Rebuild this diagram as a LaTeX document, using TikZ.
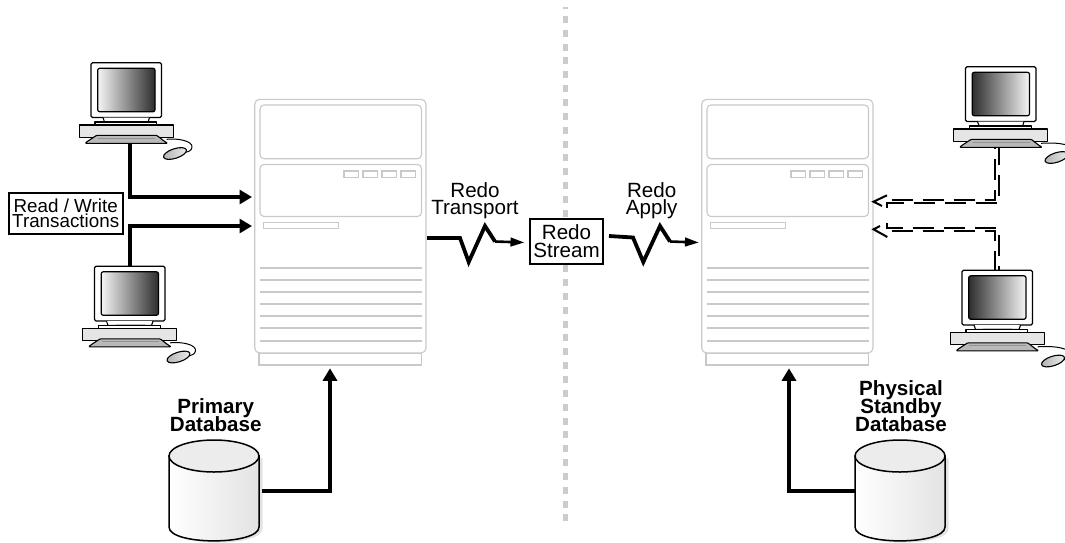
\documentclass[tikz,border=0pt]{standalone}
\usepackage{fontspec}
\setmainfont{Liberation Sans}
\usetikzlibrary{arrows.meta}
\definecolor{srv}{HTML}{C9C9C9}
\definecolor{sep}{HTML}{CCCCCC}
\setlength{\normallineskiplimit}{-30pt}
\setlength{\lineskiplimit}{-30pt}
\newcommand{\mycomputer}[5]{%
\begin{scope}[shift={(#1,#2)},line join=round]
 \draw[line width=1] (166.7,139.3) .. controls (178+#5,138) and (193+#5,141) .. (192+#5,147.3) .. controls (191.5+#5,151) and (188+#5,152) .. (183.5+#5,152.5);
 \begin{scope}[xshift=#5]
 \draw[line width=1.1,left color=gray!60,right color=gray!15,rotate around={18:(175,153.5)}] (175,153.5) ellipse [x radius=12,y radius=4.8];
 \end{scope}
 \draw[line width=1.3,rounded corners=1.5,fill=white] (91,62.7) rectangle (161.5,117.5);
 \shade[left color=#3,right color=#4,rounded corners=2,draw=black,line width=1.2] (97.7,68.3) rectangle (155,111.7);
 \draw[line width=1.1,fill=white] (103,117.5) -- (104.5,122) -- (148,122) -- (149.5,117.5);
 \fill[gray!55] (112,120.5) rectangle (141,122);
 \draw[line width=1.1,fill=white] (95,122) rectangle (156.7,125);
 \draw[line width=1.2,fill=gray!20] (79.3,125) rectangle (173.3,137.3);
 \draw[line width=1.1,fill=gray!55,rounded corners=1] (85,143.3) -- (88,141) -- (96.7,135.3) -- (156.7,135.3) -- (164,141) -- (167.7,143.3) -- cycle;
 \draw[line width=.6,gray!85] (98,138) -- (155,138);
\end{scope}}
\newcommand{\myserver}[1]{%
\begin{scope}[xshift=#1,draw=srv,line width=1.1]
 \draw[fill=white] (259,353) rectangle (421.5,365);
 \draw[fill=white,rounded corners=5] (254.7,99.3) rectangle (426,353);
 \draw[rounded corners=4] (260,105) rectangle (421.5,158.7);
 \draw[rounded corners=4] (260,164.5) rectangle (421.5,216.5);
 \draw (344,171) rectangle (358.5,177.5);
 \draw (363,171) rectangle (377.5,177.5);
 \draw (382,171) rectangle (396.5,177.5);
 \draw (401,171) rectangle (415.5,177.5);
 \draw (263.5,222.5) rectangle (338.5,228.5);
 \foreach \ly in {268,280,292,304,316,328,341}{\draw (260,\ly) -- (421.5,\ly);}
\end{scope}}
\newcommand{\mydb}[1]{%
\begin{scope}[xshift=#1]
 \fill[gray!22] (172,456) -- (172,529) .. controls (172,547) and (262.5,547) .. (262.5,529) -- (262.5,458) -- cycle;
 \draw[line width=1.5,left color=white,right color=gray!22] (169,456) -- (169,527) .. controls (169,545.5) and (259,545.5) .. (259,527) -- (259,456) -- cycle;
 \draw[line width=1.5,fill=gray!15] (214,456) ellipse [x radius=45,y radius=16];
\end{scope}}
\tikzset{
 thick arrow/.style={line width=3.8,-{Triangle[length=12.5,width=14]}},
 zig arrow/.style={line width=3.8,line join=miter},
 tail arrow/.style={line width=2.6,-{Triangle[length=14,width=8.5]}},
 dashed line/.style={line width=2,dash pattern=on 21 off 10},
 open tip/.style={line width=2},
 label text/.style={font=\fontsize{20.6}{17.6}\selectfont,align=center,inner sep=0},
 bold text/.style={font=\fontsize{20.6}{18.2}\selectfont\bfseries,align=center,inner sep=0},
 box text/.style={draw=black,line width=1.7,fill=white,align=center,inner sep=0},
}
\begin{document}
\begin{tikzpicture}[x=1pt,y=-1pt]
\useasboundingbox (0,0) rectangle (1065,542);
\clip (0,0) rectangle (1065,542);
% separator
\coordinate (septop) at (565.5,7);
\coordinate (sepbot) at (565.5,522);
\draw[sep,line width=5,dash pattern=on 7 off 6.85,dash phase=5] (septop) -- (sepbot);
% servers
\myserver{0}
\myserver{447}
% computers
\mycomputer{0}{0}{gray!8}{black!82}{0}
\mycomputer{3.5}{203.5}{gray!8}{black!82}{0}
\mycomputer{874.5}{4}{black!82}{gray!8}{7}
\mycomputer{871}{207.5}{black!82}{gray!8}{7}
% databases
\mydb{0}
\mydb{686}
% labels
\node[box text,font=\fontsize{18.8}{14.5}\selectfont,minimum width=114,minimum height=41.5] (rw) at (65.7,213.5) {Read / Write\\Transactions};
\node[box text,font=\fontsize{20.6}{18.3}\selectfont,minimum width=73,minimum height=45.3] (stream) at (566.5,241.3) {Redo\\Stream};
\node[label text] (transport) at (475,200.8) {Redo\\Transport};
\node[label text] (apply) at (651.7,200.8) {Redo\\Apply};
\node[bold text] (primary) at (215.7,415.5) {Primary\\Database};
\node[bold text] (standby) at (901,406) {Physical\\Standby\\Database};
% coordinates
\coordinate (c1) at (130,143); \coordinate (c1b) at (130,197); \coordinate (s1) at (252,197);
\coordinate (c2) at (130,265.5); \coordinate (c2b) at (130,226); \coordinate (s2) at (252,226);
\coordinate (d1) at (262,490.7); \coordinate (d1b) at (330,490.7); \coordinate (s3) at (330,368.3);
\coordinate (d2) at (855,490.7); \coordinate (d2b) at (789,490.7); \coordinate (s4) at (789,368.3);
\draw[thick arrow] (c1) -- (c1b) -- (s1);
\draw[thick arrow] (c2) -- (c2b) -- (s2);
\draw[thick arrow] (d1) -- (d1b) -- (s3);
\draw[thick arrow] (d2) -- (d2b) -- (s4);
% redo zigzags
\coordinate (t0) at (427,238); \coordinate (t5) at (495,241.5); \coordinate (t6) at (524.5,242.5);
\draw[zig arrow] (t0) -- (460,238) -- (468.7,262) -- (485,226) -- (495,241.5);
\draw[tail arrow] (t5) -- (t6);
\coordinate (a0) at (609,236); \coordinate (a5) at (670,241.5); \coordinate (a6) at (699,242.5);
\draw[zig arrow] (a0) -- (633,237.5) -- (643.3,262) -- (660,226) -- (670,241.5);
\draw[tail arrow] (a5) -- (a6);
% dashed double lines
\coordinate (m1) at (995.3,148); \coordinate (m2) at (999,148);
\coordinate (m3) at (995.3,270); \coordinate (m4) at (999,270);
\coordinate (h1) at (891.7,200.3); \coordinate (h2) at (887.3,208);
\coordinate (h3) at (887.3,223); \coordinate (h4) at (891.7,231);
\draw[dashed line] (h1) -- (995.3,200.3) -- (m1);
\draw[dashed line] (h2) -- (887.3,203.3) -- (999,203.3) -- (m2);
\draw[dashed line] (h3) -- (887.3,228) -- (999,228) -- (m4);
\draw[dashed line] (h4) -- (995.3,231) -- (m3);
\coordinate (e1) at (873.5,201.7); \coordinate (e2) at (873.5,229.3);
\draw[open tip] (887,195.3) -- (e1) -- (882,206);
\draw[open tip] (880,226) -- (e2) -- (887.3,237);
\end{tikzpicture}
\end{document}
